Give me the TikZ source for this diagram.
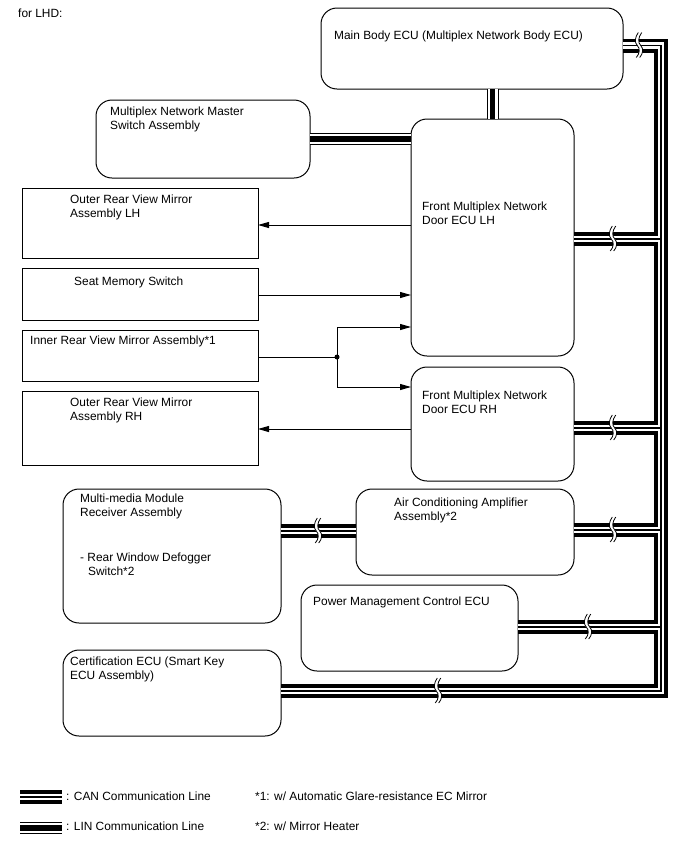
\documentclass[tikz,border=0pt]{standalone}
\usepackage{fontspec}
\setmainfont{Liberation Sans}
\usetikzlibrary{arrows.meta}
\newcommand\canbus[1]{%
  \draw[#1] (mb.east |- tt) -- (tt) -- (tb) -- (ce.east |- tb);
  \draw[#1] (dl.east |- 0,239) -- (tt |- 0,239);
  \draw[#1] (dr.east |- 0,428) -- (tt |- 0,428);
  \draw[#1] (ac.east |- 0,530) -- (tt |- 0,530);
  \draw[#1] (pm.east |- 0,627) -- (tt |- 0,627);
  \draw[#1] (mm.east |- 0,531) -- (ac.west |- 0,531);
}
\newcommand\linbus[1]{%
  \draw[#1] (ms.east |- 0,139) -- (dl.west |- 0,139);
  \draw[#1] (mb.south -| 492.5,0) -- (dl.north -| 492.5,0);
}
\newcommand\brkmark[1]{%
  \draw[brkw,shift={(#1)}] (1,-13) .. controls (-2.5,-8) and (-3,-3) .. (0,0) .. controls (3,3) and (2.5,8) .. (-1,12);
  \draw[brkb,shift={(#1)},xshift=-1.7pt] (1,-13) .. controls (-2.5,-8) and (-3,-3) .. (0,0) .. controls (3,3) and (2.5,8) .. (-1,12);
  \draw[brkb,shift={(#1)},xshift=1.7pt] (1,-13) .. controls (-2.5,-8) and (-3,-3) .. (0,0) .. controls (3,3) and (2.5,8) .. (-1,12);
}
\begin{document}
\begin{tikzpicture}[x=1pt,y=-1pt,
  box/.style={draw, line width=1pt, anchor=north west, inner sep=0pt, outer sep=0pt},
  rbox/.style={box, rounded corners=16pt},
  lbl/.style={anchor=base west, inner sep=0pt, font=\fontsize{11.9}{14}\selectfont},
  arr/.style={line width=1pt, -{Triangle[length=11pt,width=6pt]}},
  ln/.style={line width=1pt},
  canA/.style={line width=14pt, black, line join=miter},
  canB/.style={line width=6.5pt, white, line join=miter},
  canC/.style={line width=1.5pt, black, line join=miter},
  linA/.style={line width=12pt, black},
  linB/.style={line width=10pt, white},
  linC/.style={line width=5.5pt, black},
  dot/.style={circle, fill, inner sep=0pt, minimum size=5pt},
  brkw/.style={white, line width=3.4pt},
  brkb/.style={black, line width=0.8pt}
]
\useasboundingbox (0,0) rectangle (688,852);

% boxes
\node[rbox, minimum width=302pt, minimum height=81pt] (mb) at (321,8) {};
\node[rbox, minimum width=214pt, minimum height=78pt] (ms) at (96,100) {};
\node[rbox, minimum width=163pt, minimum height=237pt] (dl) at (411,119) {};
\node[box, minimum width=236pt, minimum height=70pt] (olh) at (22,188) {};
\node[box, minimum width=236pt, minimum height=52pt] (sm) at (22,268) {};
\node[box, minimum width=236pt, minimum height=51pt] (im) at (22,330) {};
\node[box, minimum width=236pt, minimum height=74pt] (orh) at (22,391) {};
\node[rbox, minimum width=163pt, minimum height=114pt] (dr) at (411,367) {};
\node[rbox, minimum width=218pt, minimum height=134pt] (mm) at (63,489) {};
\node[rbox, minimum width=218pt, minimum height=86pt] (ac) at (356,489) {};
\node[rbox, minimum width=217pt, minimum height=86pt] (pm) at (301,585) {};
\node[rbox, minimum width=218pt, minimum height=86pt] (ce) at (63,650) {};

% bus corners
\coordinate (tt) at (661,45.5);
\coordinate (tb) at (661,691);

% CAN bus layers
\canbus{canA}
\canbus{canB}
\canbus{canC}
% LIN layers
\linbus{linA}
\linbus{linB}
\linbus{linC}

% breaks
\brkmark{639,45.5}
\brkmark{613,239}
\brkmark{613,428}
\brkmark{613,530}
\brkmark{318,531}
\brkmark{588,627}
\brkmark{438,691}

% arrows
\draw[arr] (dl.west |- 0,225) -- (olh.east |- 0,225);
\draw[arr] (sm.east |- 0,295) -- (dl.west |- 0,295);
\node[dot] (j) at (337,357) {};
\draw[ln] (im.east |- j) -- (j.center);
\draw[arr] (j.center) |- (dl.west |- 0,327);
\draw[arr] (j.center) |- (dr.west |- 0,387);
\draw[arr] (dr.west |- 0,429) -- (orh.east |- 0,429);

% texts
\node[lbl] (t0) at (18,17) {for LHD:};
\node[lbl] (tmb) at (334,39) {Main Body ECU (Multiplex Network Body ECU)};
\node[lbl] (tms1) at (110,115) {Multiplex Network Master};
\node[lbl] (tms2) at (110,129) {Switch Assembly};
\node[lbl] (tolh1) at (70,203) {Outer Rear View Mirror};
\node[lbl] (tolh2) at (70,217) {Assembly LH};
\node[lbl] (tsm) at (74,285) {Seat Memory Switch};
\node[lbl] (tim) at (30,344) {Inner Rear View Mirror Assembly*1};
\node[lbl] (torh1) at (70,406) {Outer Rear View Mirror};
\node[lbl] (torh2) at (70,420) {Assembly RH};
\node[lbl] (tdl1) at (422,210) {Front Multiplex Network};
\node[lbl] (tdl2) at (422,224) {Door ECU LH};
\node[lbl] (tdr1) at (422,399) {Front Multiplex Network};
\node[lbl] (tdr2) at (422,413) {Door ECU RH};
\node[lbl] (tmm1) at (80,502) {Multi-media Module};
\node[lbl] (tmm2) at (80,516) {Receiver Assembly};
\node[lbl] (tmm3) at (80,561) {- Rear Window Defogger};
\node[lbl] (tmm4) at (88,575) {Switch*2};
\node[lbl] (tac1) at (394,506) {Air Conditioning Amplifier};
\node[lbl] (tac2) at (394,520) {Assembly*2};
\node[lbl] (tpm) at (313,605) {Power Management Control ECU};
\node[lbl] (tce1) at (70,665) {Certification ECU (Smart Key};
\node[lbl] (tce2) at (70,679) {ECU Assembly)};

% legend
\coordinate (lc1) at (20,797);
\coordinate (lc2) at (62,797);
\coordinate (ll1) at (20,828);
\coordinate (ll2) at (62,828);
\draw[canA] (lc1) -- (lc2);
\draw[canB] (lc1) -- (lc2);
\draw[canC] (lc1) -- (lc2);
\draw[linA] (ll1) -- (ll2);
\draw[linB] (ll1) -- (ll2);
\draw[linC] (ll1) -- (ll2);
\node[lbl] (tl1) at (66,800) {: CAN Communication Line};
\node[lbl] (tl2) at (66,830) {: LIN Communication Line};
\node[lbl] (tn1) at (255,800) {*1: w/ Automatic Glare-resistance EC Mirror};
\node[lbl] (tn2) at (255,830) {*2: w/ Mirror Heater};
\end{tikzpicture}
\end{document}
